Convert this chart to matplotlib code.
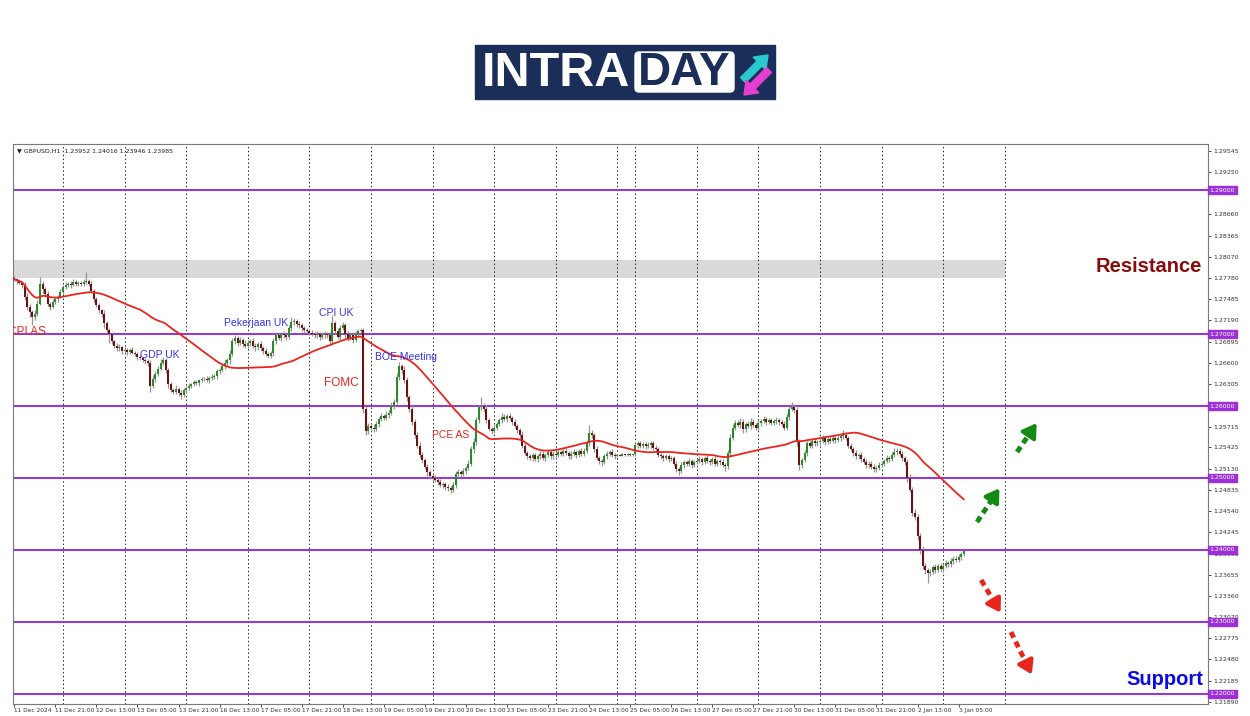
import numpy as np
import pandas as pd
import matplotlib.pyplot as plt
from matplotlib.patches import Rectangle, FancyBboxPatch, FancyArrow
from matplotlib.transforms import blended_transform_factory

# GBPUSD H1 closes, in pips above 1.2000 (one line per trading day)
closes = [
    776, 773, 771, 768, 752, 738, 730, 724, 728, 742, 770, 762, 755, 742, 738, 744, 748, 752, 758,  # 11 Dec
    765, 768, 770, 768, 772, 770, 771, 769, 772, 774, 770, 760, 748, 740, 733, 728, 715, 705, 700, 690, 684, 680, 682, 676,  # 12 Dec
    678, 675, 678, 674, 672, 668, 666, 664, 662, 660, 628, 638, 645, 652, 660, 664, 650, 630, 622, 620, 624, 618, 615, 622,  # 13 Dec
    625, 628, 630, 633, 632, 636, 637, 638, 636, 639, 640, 642, 648, 650, 656, 660, 664, 672, 690, 694, 688, 692, 686, 684,  # 16 Dec
    688, 690, 684, 682, 686, 680, 676, 672, 670, 674, 690, 698, 694, 700, 698, 696, 708, 716, 718, 714, 712, 708, 705, 704,  # 17 Dec
    702, 700, 698, 700, 696, 698, 700, 699, 690, 715, 704, 696, 708, 712, 700, 694, 698, 692, 700, 704, 706, 596, 565, 572,  # 18 Dec
    570, 568, 575, 582, 586, 584, 588, 590, 600, 606, 640, 655, 650, 636, 612, 596, 578, 560, 545, 532, 525, 515, 508, 503,  # 19 Dec
    500, 497, 494, 490, 492, 488, 486, 483, 490, 505, 508, 506, 510, 514, 520, 540, 550, 580, 598, 600, 596, 580, 568, 565,  # 20 Dec
    570, 575, 580, 585, 582, 586, 583, 578, 572, 566, 560, 545, 535, 530, 528, 532, 526, 530, 534, 528, 532, 536, 530, 534,  # 23 Dec
    532, 536, 534, 538, 535, 530, 534, 536, 532, 537, 534, 538, 548, 562, 560, 540, 528, 524, 522, 530, 534, 536, 532, 530,  # 24 Dec
    532, 531, 533, 532, 534, 532, 533,  # 25 Dec
    546, 548, 545, 547, 544, 546, 548, 542, 540, 532, 530, 528, 530, 526, 528, 520, 512, 510, 518, 522, 520, 524, 518, 522,  # 26 Dec
    524, 526, 522, 528, 524, 522, 526, 520, 524, 522, 518, 516, 535, 556, 570, 576, 574, 578, 568, 575, 572, 578, 574, 570,  # 27 Dec
    576, 579, 582, 578, 580, 577, 579, 581, 578, 575, 570, 585, 596, 598, 594, 550, 518, 525, 535, 548, 545, 552, 548, 550,  # 30 Dec
    552, 556, 550, 554, 552, 556, 553, 555, 558, 560, 556, 545, 540, 535, 530, 532, 526, 522, 518, 520, 515, 512, 514, 518,  # 31 Dec
    520, 524, 528, 526, 532, 536, 538, 534, 528, 522, 500, 484, 452, 446, 420, 400, 378, 372, 368, 370, 376, 372, 378, 374,  # 2 Jan
    378, 382, 380, 385, 388, 386, 390, 394, 398,  # 3 Jan
]
wick_up = [
    3, 2, 3, 2, 4, 5, 3, 4, 6, 5, 9, 4, 3, 5, 3, 4, 3, 2, 4,
    3, 4, 2, 3, 4, 3, 2, 3, 5, 12, 3, 4, 3, 4, 3, 2, 5, 3, 4, 3, 2, 3, 4, 2,
    4, 3, 3, 4, 2, 3, 3, 2, 3, 3, 4, 5, 4, 3, 5, 4, 3, 3, 4, 3, 5, 3, 4, 3,
    3, 4, 2, 3, 3, 2, 3, 2, 3, 3, 4, 3, 4, 3, 4, 5, 3, 6, 5, 4, 3, 4, 3, 5,
    4, 3, 5, 4, 3, 4, 3, 5, 3, 3, 4, 5, 4, 3, 4, 3, 5, 8, 4, 3, 4, 3, 3, 4,
    3, 4, 3, 4, 3, 3, 4, 3, 4, 11, 3, 4, 5, 4, 3, 4, 3, 5, 4, 3, 3, 2, 4, 5,
    4, 5, 4, 3, 4, 3, 5, 4, 5, 4, 6, 6, 4, 5, 4, 3, 5, 4, 4, 5, 4, 3, 4, 3,
    3, 4, 3, 4, 3, 3, 4, 3, 4, 5, 4, 3, 4, 3, 5, 4, 5, 5, 4, 13, 4, 5, 4, 3,
    4, 3, 4, 5, 4, 3, 4, 3, 4, 3, 4, 5, 4, 3, 4, 3, 3, 4, 3, 4, 3, 4, 3, 3,
    3, 4, 3, 3, 4, 3, 3, 4, 3, 3, 4, 3, 5, 12, 4, 3, 4, 3, 3, 4, 3, 3, 4, 3,
    1, 1, 2, 1, 1, 1, 1,
    4, 3, 4, 3, 3, 4, 3, 3, 4, 3, 4, 3, 3, 4, 3, 3, 4, 3, 4, 3, 3, 4, 3, 3,
    3, 4, 3, 3, 4, 3, 3, 4, 3, 3, 4, 3, 4, 5, 5, 4, 5, 6, 4, 3, 4, 5, 4, 3,
    4, 3, 4, 3, 3, 4, 3, 4, 3, 3, 4, 5, 4, 8, 5, 4, 4, 3, 4, 3, 4, 3, 4, 3,
    3, 4, 3, 4, 3, 4, 3, 4, 5, 7, 4, 3, 4, 3, 4, 3, 4, 3, 4, 3, 3, 4, 3, 4,
    4, 3, 4, 3, 4, 5, 4, 3, 4, 3, 4, 5, 4, 5, 4, 4, 5, 4, 3, 4, 3, 4, 3, 4,
    3, 4, 3, 4, 3, 3, 4, 3, 2,
]
wick_dn = [
    2, 3, 2, 4, 5, 4, 6, 12, 4, 3, 2, 5, 4, 3, 5, 2, 3, 4, 2,
    3, 2, 3, 4, 2, 3, 3, 2, 3, 2, 4, 3, 4, 3, 4, 5, 6, 4, 12, 4, 4, 3, 3, 4,
    3, 4, 3, 2, 3, 4, 2, 3, 3, 4, 8, 3, 4, 3, 2, 3, 4, 5, 3, 4, 3, 4, 5, 3,
    4, 3, 3, 2, 3, 4, 3, 2, 3, 4, 3, 3, 4, 3, 3, 4, 4, 5, 3, 4, 5, 3, 4, 3,
    3, 4, 3, 5, 4, 3, 4, 3, 4, 3, 5, 4, 3, 4, 3, 4, 3, 4, 3, 4, 3, 4, 3, 3,
    3, 3, 4, 3, 4, 3, 3, 4, 5, 4, 4, 3, 4, 3, 5, 4, 3, 4, 3, 4, 3, 6, 5, 4,
    5, 4, 3, 4, 3, 4, 3, 4, 3, 4, 3, 4, 5, 4, 5, 4, 5, 4, 3, 4, 4, 3, 5, 4,
    4, 3, 4, 3, 4, 5, 4, 4, 3, 4, 3, 4, 3, 4, 3, 4, 5, 4, 3, 4, 5, 4, 3, 4,
    3, 4, 3, 4, 3, 4, 3, 4, 3, 4, 5, 4, 3, 4, 3, 4, 3, 4, 3, 3, 4, 3, 4, 3,
    4, 3, 4, 3, 3, 4, 3, 3, 4, 3, 3, 4, 3, 4, 5, 4, 3, 4, 5, 3, 4, 3, 3, 4,
    1, 1, 1, 2, 1, 1, 1,
    3, 4, 3, 3, 4, 3, 4, 3, 4, 3, 3, 4, 3, 4, 3, 4, 4, 6, 3, 4, 3, 3, 4, 3,
    3, 3, 4, 3, 3, 4, 3, 4, 3, 4, 3, 6, 4, 4, 3, 4, 3, 4, 5, 4, 3, 4, 3, 4,
    3, 4, 3, 4, 3, 4, 3, 4, 4, 3, 4, 3, 4, 3, 4, 5, 7, 4, 3, 4, 3, 4, 3, 4,
    4, 3, 4, 3, 4, 3, 4, 3, 3, 4, 3, 4, 3, 4, 4, 3, 4, 3, 4, 4, 3, 4, 3, 3,
    3, 4, 3, 4, 3, 3, 4, 3, 4, 4, 5, 4, 5, 4, 6, 5, 5, 6, 14, 4, 3, 4, 3, 4,
    4, 3, 4, 3, 4, 3, 3, 4, 3,
]
first_open = 778

# bar index where each new trading day begins (period separators)
day_starts = [19, 43, 67, 91, 115, 139, 163, 187, 211, 235, 242, 266, 290, 314, 338, 362, 386]

date_labels = ["11 Dec 2024", "11 Dec 21:00", "12 Dec 13:00", "13 Dec 05:00", "13 Dec 21:00",
               "16 Dec 13:00", "17 Dec 05:00", "17 Dec 21:00", "18 Dec 13:00", "19 Dec 05:00",
               "19 Dec 21:00", "20 Dec 13:00", "23 Dec 05:00", "23 Dec 21:00", "24 Dec 13:00",
               "25 Dec 05:00", "26 Dec 13:00", "27 Dec 05:00", "27 Dec 21:00", "30 Dec 13:00",
               "31 Dec 05:00", "31 Dec 21:00", "2 Jan 13:00", "3 Jan 05:00"]

price_ticks = [1.29545, 1.29250, 1.28955, 1.28660, 1.28365, 1.28070, 1.27780, 1.27485, 1.27190,
               1.26895, 1.26600, 1.26305, 1.25715, 1.25425, 1.25130, 1.24835, 1.24540,
               1.24245, 1.23950, 1.23655, 1.23360, 1.23070, 1.22775, 1.22480, 1.22185, 1.21890]

levels = [1.29, 1.27, 1.26, 1.25, 1.24, 1.23, 1.22]
zone_lo, zone_hi = 1.2778, 1.2803

blue = "#3434e8"
red = "#e8261e"
events = [("CPI AS", -2.5, 1.27028, red, "left", 8.5),
          ("GDP UK", 56.8, 1.26708, blue, "center", 7.5),
          ("Pekerjaan UK", 94.2, 1.27153, blue, "center", 7.5),
          ("CPI UK", 125.6, 1.27292, blue, "center", 7.5),
          ("BOE Meeting", 152.7, 1.26680, blue, "center", 7.5),
          ("FOMC", 127.3, 1.26320, red, "center", 8.5),
          ("PCE AS", 170.2, 1.25597, red, "center", 7.5)]

green = "#138a13"
arrows = [((375.2, 1.24389), (384.5, 1.24889), green),
          ((390.8, 1.25361), (399.0, 1.25792), green),
          ((376.8, 1.23583), (384.9, 1.23097), red),
          ((388.4, 1.22861), (397.0, 1.22236), red)]

purple = "#9b30d6"

# ---------------------------------------------------------------
c = 1.2 + np.array(closes) / 10000
o = np.r_[1.2 + first_open / 10000, c[:-1]]
h = np.maximum(o, c) + np.array(wick_up) / 10000
l = np.minimum(o, c) - np.array(wick_dn) / 10000
x = np.arange(len(c))
ma = pd.Series(c).rolling(50, min_periods=1).mean()

fig = plt.figure(figsize=(12.5, 7.16), dpi=100)
fig.patch.set_facecolor("white")

ax = fig.add_axes([13 / 1250, 1 - 704 / 716, 1195 / 1250, 560 / 716])
ax.set_xlim(-0.5, 465.2)
ax.set_ylim(1.218611, 1.296389)

# resistance zone and day separators
ax.fill_between([-0.5, 386], zone_lo, zone_hi, color="#d9d9d9", lw=0, zorder=0.5)
for d in day_starts:
    ax.axvline(d, color="#222222", lw=0.7, ls=(0, (1.5, 2.5)), zorder=1)
for lv in levels:
    ax.axhline(lv, color=purple, lw=1.4, zorder=2)

# candles
bull = c >= o
ax.vlines(x, l, h, color="#949494", lw=0.9, zorder=3)
ax.bar(x, np.maximum(np.abs(c - o), 0.00004), bottom=np.minimum(o, c), width=0.78,
       color=np.where(bull, "#2a8a2a", "#6b1212"), lw=0, zorder=4)
ax.plot(x, ma, color=red, lw=1.3, zorder=5)

# event labels
for txt, ex, ey, col, ha, fs in events:
    ax.text(ex, ey, txt, color=col, fontsize=fs, ha=ha, va="center",
            family="Liberation Sans", zorder=6, clip_on=True)

ax.text(462.9, 1.27931, "Resistance", color="#8b0a0a", fontsize=14.5, fontweight="bold",
        family="Liberation Sans", ha="right", va="center", zorder=6)
ax.text(463.3, 1.22208, "Support", color="#0a0ae6", fontsize=14.5, fontweight="bold",
        family="Liberation Sans", ha="right", va="center", zorder=6)

# scenario arrows
for (x0, y0), (x1, y1), col in arrows:
    xm, ym = x0 + 0.72 * (x1 - x0), y0 + 0.72 * (y1 - y0)
    ax.plot([x0, xm], [y0, ym], color=col, lw=3.5, ls=(0, (1.3, 0.9)), solid_capstyle="butt",
            dash_capstyle="butt", zorder=6)
    ax.annotate("", xy=(x1, y1), xytext=(xm, ym),
                arrowprops=dict(arrowstyle="-|>,head_length=0.55,head_width=0.35",
                                color=col, lw=3.0, mutation_scale=14), zorder=6)

ax.text(0.003, 0.993, "\u25bc GBPUSD,H1  1.23952 1.24016 1.23946 1.23985", transform=ax.transAxes,
        fontsize=4.5, va="top", ha="left", color="#222222", family="DejaVu Sans")

# axes styling
for s in ax.spines.values():
    s.set_color("#7a7a7a")
    s.set_linewidth(0.8)
ax.yaxis.tick_right()
ax.set_yticks(price_ticks)
ax.set_yticklabels([f"{p:.5f}" for p in price_ticks])
ax.tick_params(axis="y", labelsize=4.5, length=2, pad=1.5, colors="#333333", width=0.6)
ax.set_xticks(np.arange(0, 16 * len(date_labels), 16))
ax.set_xticklabels(date_labels, ha="left")
ax.tick_params(axis="x", labelsize=4.2, length=2, pad=1, colors="#333333", width=0.6)

trans = blended_transform_factory(ax.transAxes, ax.transData)
for lv in levels:
    ax.text(1.0015, lv, f"{lv:.5f}", transform=trans, fontsize=4.5, color="white",
            va="center", ha="left", clip_on=False, zorder=7,
            bbox=dict(boxstyle="square,pad=0.3", fc=purple, ec=purple))

# logo
lax = fig.add_axes([0, 0, 1, 1], zorder=-1)
lax.set_xlim(0, 1250)
lax.set_ylim(716, 0)
lax.axis("off")
navy = "#1b2e59"
lax.add_patch(Rectangle((475, 45), 300, 54, color=navy))
lax.text(482, 73, "INTRA", color="white", fontsize=35, fontweight="bold",
         family="Liberation Sans", va="center", ha="left")
lax.add_patch(FancyBboxPatch((635, 52), 99, 40, boxstyle="round,pad=0,rounding_size=4", color="white"))
lax.text(684.5, 73, "DAY", color=navy, fontsize=33, fontweight="bold",
         family="Liberation Sans", va="center", ha="center")
lax.add_patch(FancyArrow(743, 80, 25, -25, width=7, head_width=18, head_length=12,
                         length_includes_head=True, color="#2cc8d0"))
lax.add_patch(FancyArrow(769, 70, -25, 25, width=7, head_width=18, head_length=12,
                         length_includes_head=True, color="#e43fcf"))

fig.savefig("out.png", dpi=100, facecolor="white")
